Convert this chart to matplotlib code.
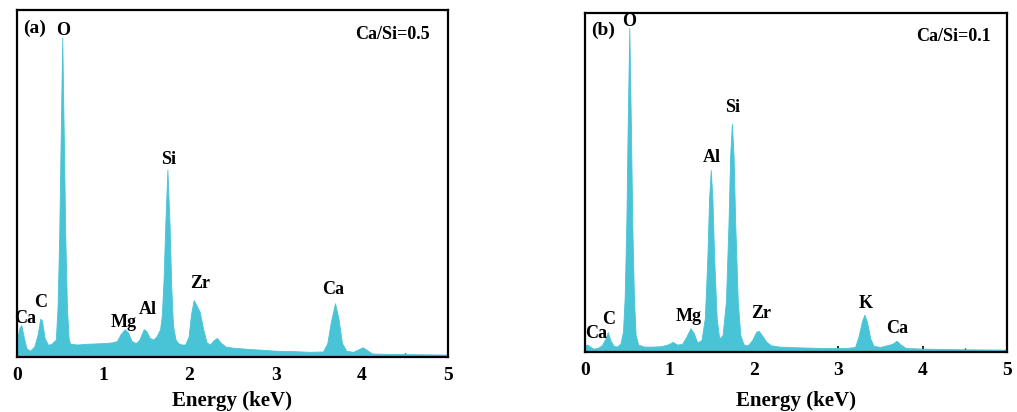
import matplotlib
matplotlib.use("Agg")
import matplotlib.pyplot as plt
from matplotlib.ticker import MultipleLocator

plt.rcParams["font.family"] = ["Liberation Serif", "DejaVu Serif"]
plt.rcParams["font.weight"] = "bold"

FILL = "#49C3D6"

# EDS spectrum, Ca/Si = 0.5 (energy in keV, relative counts)
energy_a = [0.00, 0.03, 0.05, 0.08, 0.11, 0.15, 0.20, 0.24, 0.27, 0.29, 0.32, 0.36,
            0.40, 0.45, 0.47, 0.49, 0.505, 0.525, 0.545, 0.56, 0.58, 0.60, 0.62,
            0.70, 0.80, 0.90, 1.00, 1.10, 1.16, 1.20, 1.25, 1.29, 1.33, 1.38,
            1.42, 1.47, 1.50, 1.54, 1.58, 1.62, 1.66, 1.68, 1.70, 1.72, 1.745,
            1.77, 1.79, 1.81, 1.84, 1.87, 1.91, 1.95, 1.99, 2.02, 2.05, 2.08,
            2.12, 2.16, 2.20, 2.24, 2.28, 2.32, 2.36, 2.42, 2.50, 2.70, 2.90,
            3.00, 3.20, 3.40, 3.55, 3.60, 3.64, 3.69, 3.73, 3.77, 3.82, 3.90,
            3.96, 4.01, 4.06, 4.12, 4.30, 4.60, 5.00]
counts_a = [5.0, 8.5, 9.2, 5.5, 2.5, 1.8, 3.0, 6.5, 11.0, 10.5, 5.5, 3.5,
            3.8, 5.0, 14.0, 35.0, 60.0, 92.0, 60.0, 35.0, 14.0, 5.0, 3.8,
            3.6, 3.8, 3.9, 4.0, 4.2, 4.6, 6.5, 8.0, 7.0, 4.6, 4.0,
            5.0, 8.0, 7.5, 5.5, 5.0, 6.0, 8.0, 12.0, 22.0, 38.0, 54.0,
            38.0, 20.0, 9.0, 5.0, 4.0, 3.6, 3.6, 5.8, 12.5, 16.4, 15.0,
            13.0, 8.0, 4.2, 3.6, 4.8, 5.5, 4.2, 3.0, 2.7, 2.3, 2.0,
            1.8, 1.7, 1.5, 1.6, 4.0, 10.0, 15.5, 11.0, 4.0, 1.8, 1.5,
            2.2, 2.8, 2.0, 1.0, 0.9, 0.8, 0.7]

# EDS spectrum, Ca/Si = 0.1
energy_b = [0.00, 0.03, 0.06, 0.10, 0.15, 0.20, 0.24, 0.27, 0.30, 0.34, 0.38, 0.42,
            0.45, 0.47, 0.49, 0.505, 0.525, 0.545, 0.56, 0.58, 0.60, 0.63, 0.70,
            0.80, 0.90, 0.98, 1.04, 1.09, 1.15, 1.20, 1.25, 1.29, 1.33, 1.38,
            1.42, 1.45, 1.47, 1.49, 1.51, 1.53, 1.56, 1.59, 1.63, 1.67, 1.70,
            1.72, 1.74, 1.76, 1.78, 1.81, 1.84, 1.88, 1.93, 1.98, 2.03, 2.06,
            2.10, 2.15, 2.20, 2.30, 2.50, 2.80, 3.10, 3.20, 3.24, 3.28, 3.31,
            3.34, 3.38, 3.42, 3.50, 3.58, 3.64, 3.69, 3.74, 3.80, 4.00, 4.50, 5.00]
counts_b = [2.0, 2.2, 1.6, 1.0, 1.2, 2.0, 3.8, 5.9, 3.5, 1.8, 1.6, 2.5,
            6.0, 16.0, 38.0, 65.0, 95.6, 65.0, 38.0, 16.0, 5.0, 2.2, 1.6,
            1.6, 1.7, 2.2, 3.0, 2.2, 2.4, 4.5, 7.0, 5.5, 2.8, 3.5,
            10.0, 28.0, 45.0, 53.7, 45.0, 28.0, 10.0, 4.0, 5.0, 15.0, 38.0,
            58.0, 67.3, 58.0, 38.0, 15.0, 5.0, 2.2, 2.0, 3.5, 6.0, 6.2,
            4.8, 3.0, 2.0, 1.6, 1.4, 1.2, 1.2, 1.5, 4.5, 9.0, 11.0,
            9.0, 4.0, 1.8, 1.5, 2.0, 2.4, 3.3, 2.2, 1.2, 1.0, 0.8, 0.7]

tick_values = [0, 1, 2, 3, 4, 5]
tick_labels = ["0", "1", "2", "3", "4", "5"]

# peak labels: (text, energy, height)
labels_a = [("O", 0.53, 94.0), ("Si", 1.76, 57.0), ("Zr", 2.12, 21.3),
            ("Ca", 3.67, 19.6), ("Mg", 1.24, 10.0), ("Al", 1.52, 13.8),
            ("C", 0.28, 15.6), ("Ca", 0.10, 11.2)]
labels_b = [("O", 0.52, 97.6), ("Si", 1.75, 72.0), ("Al", 1.50, 57.5),
            ("Mg", 1.23, 10.6), ("Zr", 2.09, 11.5), ("K", 3.33, 14.2),
            ("Ca", 3.70, 7.0), ("C", 0.28, 9.7), ("Ca", 0.13, 5.6)]

fig = plt.figure(figsize=(10.17, 4.12), dpi=100)
ax_a = fig.add_axes([0.0167, 0.1335, 0.4238, 0.842])
ax_b = fig.add_axes([0.5752, 0.1456, 0.4150, 0.8228])


def draw_panel(ax, energy, counts, labels, tag, tag_x, ratio, xpad):
    ax.fill_between(energy, 0, counts, color=FILL, linewidth=0.6,
                    edgecolor=FILL, zorder=1)
    ax.set_xlim(0, 5)
    ax.set_ylim(0, 100)
    ax.set_axisbelow(True)
    ax.set_yticks([])
    ax.set_xticks(tick_values)
    ax.set_xticklabels(tick_labels, fontsize=14, fontweight="bold")
    ax.xaxis.set_minor_locator(MultipleLocator(0.5))
    ax.tick_params(axis="x", which="major", direction="in", length=4,
                   width=1.2, pad=7)
    ax.tick_params(axis="x", which="minor", direction="in", length=3,
                   width=1.0)
    for s in ax.spines.values():
        s.set_linewidth(1.6)
        s.set_color("black")
    ax.set_xlabel("Energy (keV)", fontsize=15, fontweight="bold", labelpad=xpad)
    for text, x, y in labels:
        ax.text(x, y, text, ha="center", va="center", fontsize=13,
                fontweight="bold")
    ax.text(tag_x, 94.8, tag, ha="center", va="center", fontsize=14,
            fontweight="bold")
    ax.text(4.36, 93.0, ratio, ha="center", va="center", fontsize=13,
            fontweight="bold")


draw_panel(ax_a, energy_a, counts_a, labels_a, "(a)", 0.20, "Ca/Si=0.5", 5)
draw_panel(ax_b, energy_b, counts_b, labels_b, "(b)", 0.21, "Ca/Si=0.1", 9)

fig.savefig("out.png", dpi=100)
